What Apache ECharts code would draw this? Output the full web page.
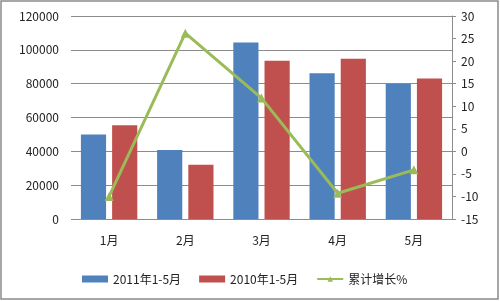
<!DOCTYPE html>
<html><head><meta charset="utf-8">
<script src="https://cdn.jsdelivr.net/npm/echarts@6/dist/echarts.min.js"></script>
<style>html,body{margin:0;padding:0;background:#fff}#c{width:500px;height:301px}</style>
</head><body><div id="c"></div>
<script>
const categories = ['1月','2月','3月','4月','5月'];
const s2011 = [50000, 40800, 104300, 86200, 79900];
const s2010 = [55400, 32100, 93500, 94700, 83000];
const growth = [-10, 26.2, 11.8, -9.3, -4.1];
const leftTicks = {min:0, max:120000, interval:20000};
const rightTicks = {min:-15, max:30, interval:5};
const font = '"Noto Sans CJK SC", "Noto Sans", sans-serif';

const chart = echarts.init(document.getElementById('c'), null, {renderer:'canvas'});
chart.setOption({
  animation:false,
  textStyle:{fontFamily:font},
  graphic:[{type:'rect', shape:{x:1,y:1,width:497,height:298}, style:{fill:'none', stroke:'#8a8a8a', lineWidth:1.5}, silent:true}],
  grid:{left:71, right:48, top:16, bottom:82},
  legend:{
    left:77, top:268, itemWidth:26, itemHeight:7, itemGap:18,
    textStyle:{fontSize:12, color:'#222', fontFamily:font},
    data:[{name:'2011年1-5月', icon:'rect'},{name:'2010年1-5月', icon:'rect'},{name:'累计增长%'}]
  },
  xAxis:{
    type:'category', data:categories,
    axisLine:{show:false}, axisTick:{show:false},
    axisLabel:{fontSize:12, color:'#222', margin:15}
  },
  yAxis:[
    {type:'value', min:leftTicks.min, max:leftTicks.max, interval:leftTicks.interval,
     axisLine:{show:false}, axisTick:{show:false},
     axisLabel:{fontSize:12, color:'#222', margin:12, formatter:function(v){return String(v);}},
     splitLine:{lineStyle:{color:'#8c8c8c', width:1}}},
    {type:'value', min:rightTicks.min, max:rightTicks.max, interval:rightTicks.interval,
     position:'right',
     axisLine:{show:true, lineStyle:{color:'#8c8c8c'}},
     axisTick:{show:true, length:4, lineStyle:{color:'#8c8c8c'}},
     axisLabel:{fontSize:12, color:'#222', margin:9},
     splitLine:{show:false}}
  ],
  series:[
    {name:'2011年1-5月', type:'bar', data:s2011, barGap:'24%', barCategoryGap:'26%',
     itemStyle:{color:'#4f81bd'}},
    {name:'2010年1-5月', type:'bar', data:s2010,
     itemStyle:{color:'#c0504d'}},
    {name:'累计增长%', type:'line', yAxisIndex:1, data:growth,
     symbol:'triangle', symbolSize:9, z:5,
     lineStyle:{color:'#9bbb59', width:3},
     itemStyle:{color:'#9bbb59'}}
  ]
});
</script></body></html>
